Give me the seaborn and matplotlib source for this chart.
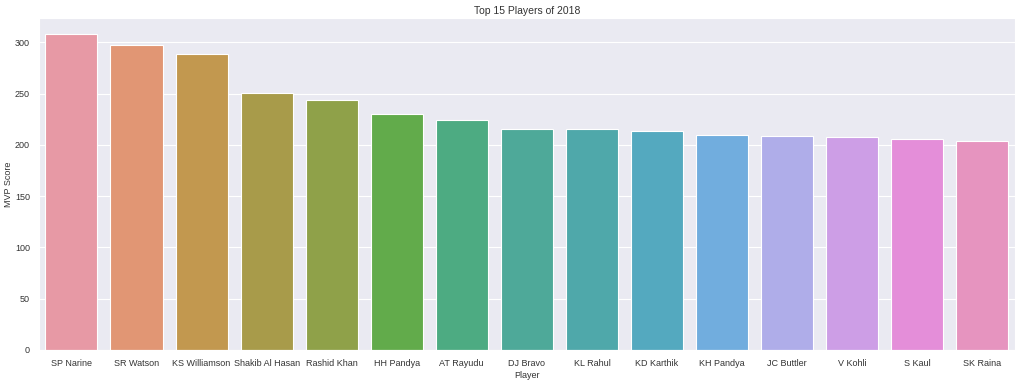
import pandas as pd
import numpy as np
import matplotlib
matplotlib.use('Agg')
import matplotlib.pyplot as plt
import seaborn as sns

players = ['SP Narine', 'SR Watson', 'KS Williamson', 'Shakib Al Hasan', 'Rashid Khan',
           'HH Pandya', 'AT Rayudu', 'DJ Bravo', 'KL Rahul', 'KD Karthik',
           'KH Pandya', 'JC Buttler', 'V Kohli', 'S Kaul', 'SK Raina']
mvp_score = [308.3, 297.3, 288.8, 250.2, 243.4,
             230.0, 224.5, 215.1, 215.1, 213.8,
             209.6, 208.9, 207.9, 205.3, 203.4]

df = pd.DataFrame({'Player': players, 'MVP Score': mvp_score})

sns.set_style('darkgrid')
plt.rcParams['font.family'] = ['Liberation Sans', 'DejaVu Sans']
plt.rcParams['text.color'] = '.2'
plt.rcParams['axes.labelcolor'] = '.2'
plt.rcParams['xtick.color'] = '.2'
plt.rcParams['ytick.color'] = '.2'

fig = plt.figure(figsize=(10.24, 3.82), dpi=100)
ax = fig.add_axes([0.038, 0.084, 0.953, 0.869])
sns.barplot(data=df, x='Player', y='MVP Score', hue='Player',
            palette=sns.husl_palette(len(players), l=.7), saturation=0.7,
            legend=False, edgecolor='white', linewidth=0.8, ax=ax)
ax.set_title('Top 15 Players of 2018', fontsize=7.5, pad=3)
ax.set_xlabel('Player', fontsize=6.5, labelpad=2)
ax.set_ylabel('MVP Score', fontsize=6.5, labelpad=1)
ax.tick_params(labelsize=6.5, pad=3)
plt.savefig('out.png', dpi=100)
plt.close()
